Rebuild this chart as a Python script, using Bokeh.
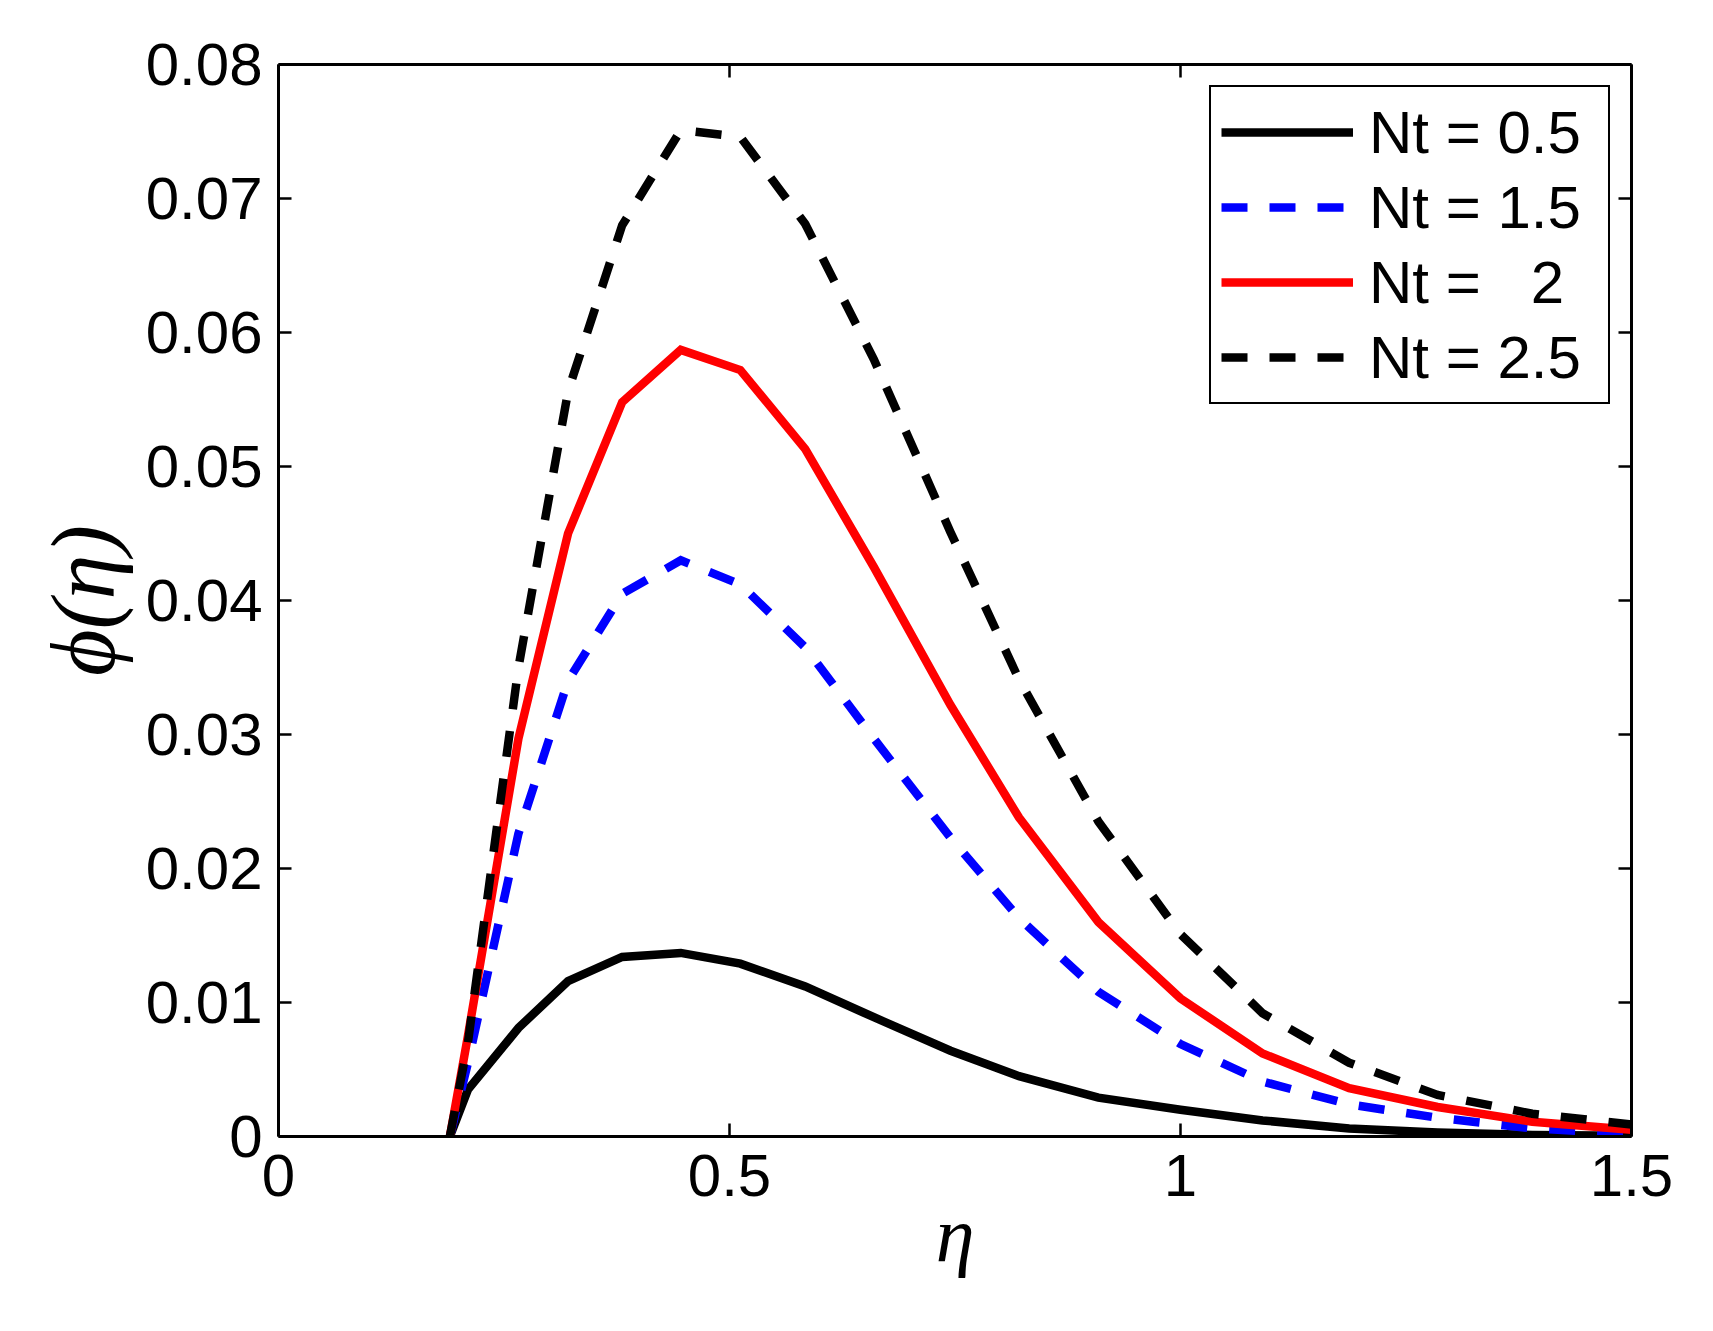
from bokeh.plotting import figure
from bokeh.models import Range1d, FixedTicker, LinearAxis, Legend, LegendItem
from bokeh.embed import file_html
from bokeh.resources import INLINE

# ---- data ----
eta = [0.19, 0.21, 0.266, 0.321, 0.381, 0.446, 0.512, 0.584, 0.66, 0.745,
       0.821, 0.909, 1.0, 1.091, 1.187, 1.285, 1.39, 1.5]
phi_nt05 = [0.0, 0.0035, 0.0081, 0.0116, 0.0134, 0.0137, 0.0129, 0.0112, 0.0089,
            0.0064, 0.0045, 0.0029, 0.0020, 0.0012, 0.0006, 0.0003, 0.00012, 0.00005]
phi_nt15 = [0.0, 0.0055, 0.0226, 0.0340, 0.0405, 0.0430, 0.0412, 0.0365, 0.0297,
            0.0223, 0.0163, 0.0108, 0.0069, 0.0041, 0.0024, 0.0014, 0.0006, 0.0002]
phi_nt20 = [0.0, 0.0075, 0.0297, 0.0450, 0.0548, 0.0587, 0.0572, 0.0513, 0.0425,
            0.0322, 0.0238, 0.0160, 0.0103, 0.0062, 0.0036, 0.0022, 0.0011, 0.0005]
phi_nt25 = [0.0, 0.0070, 0.0350, 0.0556, 0.0680, 0.0751, 0.0746, 0.0681, 0.0580,
            0.0451, 0.0341, 0.0235, 0.0151, 0.0092, 0.0055, 0.0031, 0.0017, 0.0009]

series_labels = ["Nt = 0.5", "Nt = 1.5", "Nt =   2", "Nt = 2.5"]
series_colors = ["black", "blue", "red", "black"]
series_dashes = ["solid", "26 22", "solid", "26 22"]

x_ticks = [0, 0.5, 1, 1.5]
x_tick_labels = ["0", "0.5", "1", "1.5"]
y_ticks = [0, 0.01, 0.02, 0.03, 0.04, 0.05, 0.06, 0.07, 0.08]
y_tick_labels = ["0", "0.01", "0.02", "0.03", "0.04", "0.05", "0.06", "0.07", "0.08"]

TICK_FONT = "Liberation Sans"
LABEL_FONT = "Liberation Serif"

p = figure(frame_width=1353, frame_height=1072,
           x_range=Range1d(0, 1.5), y_range=Range1d(0, 0.08),
           output_backend="svg", toolbar_location=None,
           min_border_left=278, min_border_right=66,
           min_border_top=64, min_border_bottom=180,
           background_fill_color="white", border_fill_color="white")
p.xgrid.visible = False
p.ygrid.visible = False
p.outline_line_color = None

def style_axis(ax, ticks, labels, show_labels=True):
    ax.ticker = FixedTicker(ticks=ticks)
    ax.minor_tick_line_color = None
    ax.major_tick_in = 13
    ax.major_tick_out = 0
    ax.major_tick_line_width = 2.5
    ax.major_tick_line_color = "black"
    ax.axis_line_width = 3
    ax.axis_line_color = "black"
    ax.major_label_text_font = TICK_FONT
    if show_labels:
        ax.major_label_overrides = {t: l for t, l in zip(ticks, labels)}
        ax.major_label_text_font_size = "60px"
        ax.major_label_text_color = "black"
    else:
        ax.major_label_text_font_size = "1px"
        ax.major_label_text_color = None
        ax.major_label_text_alpha = 0
        ax.major_label_standoff = 0

style_axis(p.xaxis[0], x_ticks, x_tick_labels)
style_axis(p.yaxis[0], y_ticks, y_tick_labels)
p.xaxis[0].major_label_standoff = 18
p.yaxis[0].major_label_standoff = 16

p.xaxis[0].axis_label = "η"
p.yaxis[0].axis_label = "ϕ(η)"
for ax in (p.xaxis[0], p.yaxis[0]):
    ax.axis_label_text_font = LABEL_FONT
    ax.axis_label_text_font_style = "italic"
    ax.axis_label_text_color = "black"
p.xaxis[0].axis_label_text_font_size = "78px"
p.yaxis[0].axis_label_text_font_size = "90px"
p.xaxis[0].axis_label_standoff = -8
p.yaxis[0].axis_label_standoff = 10

top_ax = LinearAxis()
right_ax = LinearAxis()
style_axis(top_ax, x_ticks, x_tick_labels, show_labels=False)
style_axis(right_ax, y_ticks, y_tick_labels, show_labels=False)
p.add_layout(top_ax, "above")
p.add_layout(right_ax, "right")

series = [phi_nt05, phi_nt15, phi_nt20, phi_nt25]
items = []
for ys, lab, col, dash in zip(series, series_labels, series_colors, series_dashes):
    r = p.line(eta, ys, line_color=col, line_width=8.5, line_dash=dash,
               line_join="miter")
    items.append(LegendItem(label=lab, renderers=[r]))

legend = Legend(items=items, location="top_right", margin=21,
                padding=10, spacing=5, glyph_width=132, glyph_height=70,
                label_height=70, label_width=229, label_standoff=16,
                label_text_font=TICK_FONT, label_text_font_size="60px",
                label_text_color="black",
                border_line_color="black", border_line_width=2.5,
                border_line_alpha=1.0,
                background_fill_color="white", background_fill_alpha=1.0)
p.add_layout(legend, "center")

open("out.html", "w").write(file_html(p, INLINE))
